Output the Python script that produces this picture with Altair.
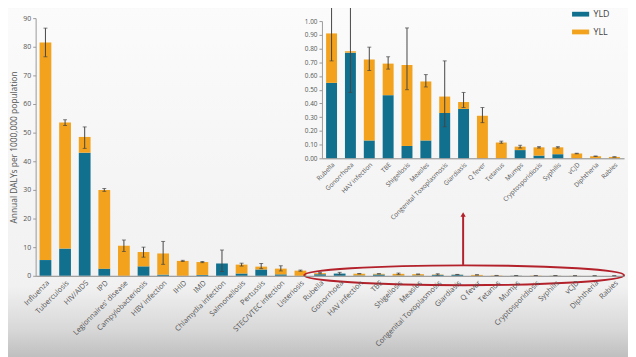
import altair as alt
import pandas as pd

# ---------------- data ----------------
main_cats = ["Influenza", "Tuberculosis", "HIV/AIDS", "IPD", "Legionnaires' disease",
             "Campylobacteriosis", "HBV infection", "IHID", "IMD", "Chlamydia infection",
             "Salmonellosis", "Pertussis", "STEC/VTEC infection", "Listeriosis",
             "Rubella", "Gonorrhoea", "HAV infection", "TBE", "Shigellosis", "Measles",
             "Congenital Toxoplasmosis", "Giardiasis", "Q fever", "Tetanus", "Mumps",
             "Cryptosporidiosis", "Syphilis", "vCJD", "Diphtheria", "Rabies"]
main_total = [81.5, 53.5, 48.5, 30.0, 10.5, 8.3, 7.8, 5.2, 4.8, 4.3, 3.9, 3.2, 2.5, 1.8,
              0.91, 0.78, 0.72, 0.69, 0.68, 0.56, 0.45, 0.41, 0.31, 0.115, 0.085, 0.08,
              0.08, 0.035, 0.015, 0.01]
main_yld = [5.5, 9.5, 43.0, 2.5, 0.0, 3.3, 0.4, 0.0, 0.3, 4.3, 0.8, 2.2, 0.5, 0.0,
            0.55, 0.77, 0.13, 0.46, 0.09, 0.13, 0.33, 0.36, 0.0, 0.0, 0.06, 0.02,
            0.03, 0.0, 0.0, 0.0]
main_lo = [76.5, 52.5, 44.5, 29.5, 8.5, 6.5, 4.0, 5.0, 4.6, 1.5, 3.4, 2.5, 1.7, 1.6,
           0.71, 0.48, 0.64, 0.65, 0.50, 0.52, 0.23, 0.37, 0.26, 0.11, 0.075, 0.075,
           0.075, 0.033, 0.013, 0.009]
main_hi = [86.5, 54.5, 52.0, 30.5, 12.5, 10.0, 12.0, 5.4, 5.0, 9.0, 4.4, 4.3, 3.5, 2.0,
           1.18, 1.2, 0.81, 0.74, 0.95, 0.61, 0.71, 0.48, 0.37, 0.125, 0.095, 0.085,
           0.085, 0.037, 0.017, 0.011]

inset_cats = main_cats[14:]

main_ticks = [0, 10, 20, 30, 40, 50, 60, 70, 80, 90]
inset_ticks = [0.0, 0.1, 0.2, 0.3, 0.4, 0.5, 0.6, 0.7, 0.8, 0.9, 1.0]

BLUE = "#12708f"
ORANGE = "#f2a21c"
RED = "#b3212b"
FONT = "Open Sans"
YTITLE = "Annual DALYs per 1000,000 population"

rows = []
for c, t, d in zip(main_cats, main_total, main_yld):
    rows.append({"cat": c, "type": "YLD", "val": d, "ord": 0})
    rows.append({"cat": c, "type": "YLL", "val": round(t - d, 4), "ord": 1})
bars_df = pd.DataFrame(rows)
err_df = pd.DataFrame({"cat": main_cats, "lo": main_lo, "hi": main_hi})
bars_in = bars_df[bars_df["cat"].isin(inset_cats)]
err_in = err_df[err_df["cat"].isin(inset_cats)]

W, H = 596, 261
color = alt.Color("type:N", scale=alt.Scale(domain=["YLD", "YLL"], range=[BLUE, ORANGE]),
                  legend=alt.Legend(title=None, orient="none", legendX=543, legendY=-13,
                                    symbolType="M-1,-0.28H1V0.28H-1Z", symbolSize=300,
                                    symbolStrokeWidth=0, labelFontSize=9, labelFont=FONT,
                                    labelColor="#444", rowPadding=4, zindex=2))

# ---------------- axes (shared by all layers of a panel) ----------------
xm_axis = alt.Axis(labelAngle=-45, labelFontSize=7.5, labelFont=FONT, labelColor="#555",
                   domainColor="#888", ticks=False, labelPadding=3, zindex=1,
                   labelOverlap=False)
ym_axis = alt.Axis(values=main_ticks, grid=False, labelFontSize=7,
                   labelFont=FONT, labelColor="#555", domainColor="#999",
                   tickColor="#999", tickSize=3,
                   titleFontSize=8.5, titleFont=FONT, titleColor="#555",
                   titleFontWeight="normal", titlePadding=4, zindex=1,
                   labelOverlap=False)
xi_axis = alt.Axis(orient="bottom", offset=-(H - 142), labelAngle=-45, labelFontSize=6.5,
                   labelFont=FONT, labelColor="#555", domainColor="#888", ticks=False,
                   labelPadding=3, zindex=1, labelOverlap=False)
yi_axis = alt.Axis(orient="left", offset=-290, values=inset_ticks,
                   format=".2f", grid=False, labelFontSize=6.5, labelFont=FONT,
                   labelColor="#555", domainColor="#999", tickColor="#999", tickSize=3,
                   zindex=1, labelOverlap=False)

# ---------------- main chart ----------------
xm_scale = alt.Scale(paddingInner=0.4, paddingOuter=0.2)
ym_scale = alt.Scale(domain=[0, 90])


def xm():
    return alt.X("cat:N", sort=main_cats, title=None, scale=xm_scale, axis=xm_axis)


def ym(field):
    return alt.Y(field, title=YTITLE, scale=ym_scale, axis=ym_axis)


main_bars = alt.Chart(bars_df).mark_bar().encode(x=xm(), y=ym("val:Q"), color=color,
                                                  order=alt.Order("ord:Q"))
main_rule = alt.Chart(err_df).mark_rule(color="#444", strokeWidth=1).encode(
    x=xm(), y=ym("lo:Q"), y2="hi:Q")
main_cap1 = alt.Chart(err_df).mark_tick(color="#444", thickness=1, size=4).encode(
    x=xm(), y=ym("lo:Q"))
main_cap2 = alt.Chart(err_df).mark_tick(color="#444", thickness=1, size=4).encode(
    x=xm(), y=ym("hi:Q"))
main = alt.layer(main_bars, main_rule, main_cap1, main_cap2)

# ---------------- inset chart ----------------
xi_scale = alt.Scale(range=[290, 596], paddingInner=0.42, paddingOuter=0.22)
yi_scale = alt.Scale(domain=[0, 1], range=[142, 3])


def xi():
    return alt.X("cat:N", sort=inset_cats, title=None, scale=xi_scale, axis=xi_axis)


def yi(field):
    return alt.Y(field, title=None, scale=yi_scale, axis=yi_axis)


in_bars = alt.Chart(bars_in).mark_bar().encode(x=xi(), y=yi("val:Q"), color=color,
                                                order=alt.Order("ord:Q"))
in_rule = alt.Chart(err_in).mark_rule(color="#444", strokeWidth=1).encode(
    x=xi(), y=yi("lo:Q"), y2="hi:Q")
in_cap1 = alt.Chart(err_in).mark_tick(color="#444", thickness=1, size=4).encode(
    x=xi(), y=yi("lo:Q"))
in_cap2 = alt.Chart(err_in).mark_tick(color="#444", thickness=1, size=4).encode(
    x=xi(), y=yi("hi:Q"))
inset = alt.layer(in_bars, in_rule, in_cap1, in_cap2)

# ---------------- decorations ----------------
anno = pd.DataFrame({"k": [0]})
bg = alt.Chart(anno).mark_rect(
    fill=alt.Gradient(gradient="linear", x1=0, y1=0, x2=0, y2=1,
                      stops=[alt.GradientStop(color="#fbfbfb", offset=0),
                             alt.GradientStop(color="#f1f1f1", offset=0.78),
                             alt.GradientStop(color="#d8d8d8", offset=0.9),
                             alt.GradientStop(color="#b8b8b8", offset=1)])
).encode(x=alt.value(-40), x2=alt.value(W + 12), y=alt.value(-10), y2=alt.value(H + 90))

ellipse = alt.Chart(anno).mark_point(
    shape="M-1,0A1,0.062 0 1,0 1,0A1,0.062 0 1,0 -1,0Z", filled=False,
    stroke=RED, strokeWidth=2, opacity=1, size=104976
).encode(x=alt.value(434), y=alt.value(260.5))
arrow = alt.Chart(anno).mark_rule(color=RED, strokeWidth=2).encode(
    x=alt.value(433), y=alt.value(250), y2=alt.value(200))
head = alt.Chart(anno).mark_point(shape="triangle-up", filled=True, color=RED,
                                  opacity=1, size=28).encode(
    x=alt.value(433), y=alt.value(199))

chart = alt.layer(bg, main, inset, ellipse, arrow, head).resolve_scale(
    x="independent", y="independent"
).properties(
    width=W, height=H,
    autosize=alt.AutoSizeParams(type="none"),
    padding={"left": 28, "top": 8, "right": 4, "bottom": 80},
    background="#f4f4f4"
).configure_view(stroke=None)

chart.save("out.html", embed_options={"renderer": "svg", "actions": False})
